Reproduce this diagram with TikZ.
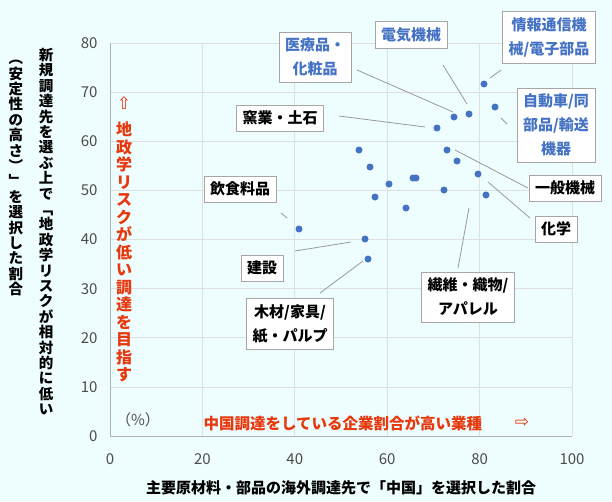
\documentclass[tikz,border=0pt]{standalone}
\usepackage{fontspec}
\setmainfont{Noto Sans CJK JP}
\newfontfamily\sym{DejaVu Sans}
\begin{document}
\begin{tikzpicture}[x=1pt,y=-1pt,
  pt/.style={circle,fill=ptblue,inner sep=0,minimum size=7pt},
  lab/.style={draw=gray!70,fill=white,align=center,inner sep=6pt,font=\fontsize{15}{24}\selectfont\bfseries},
  blab/.style={lab,text=labblue},
  lead/.style={draw=gray!80,line width=0.8pt},
  grid/.style={draw=gray!25,line width=0.8pt},
  tick/.style={font=\fontsize{15}{17}\selectfont,text=black!70},
  vt/.style={align=center,anchor=north,font=\fontsize{14.5}{15.4}\selectfont\bfseries,inner sep=0}]
\definecolor{ptblue}{HTML}{4472C4}
\definecolor{labblue}{HTML}{4472C4}
\definecolor{bg}{HTML}{EEFDFD}
\definecolor{red}{HTML}{E8380D}
\fill[bg] (0,0) rectangle (612,501);
\useasboundingbox (0,0) rectangle (612,501);
% grid
\foreach \i in {1,...,8} \draw[grid] (110,{436-\i*49.1}) -- (572,{436-\i*49.1});
\foreach \i in {1,...,5} \draw[grid] ({110+\i*92.4},43) -- ({110+\i*92.4},436);
\draw[gray!60,line width=0.8pt] (110,43) -- (110,436) -- (572,436);
\foreach \v [count=\i from 0] in {0,10,...,80} \node[tick,anchor=east] (y\i) at (101,{436-\i*49.1}) {\v};
\foreach \v [count=\i from 0] in {0,20,...,100} \node[tick] (x\i) at ({110+\i*92.4},459) {\v};
\node[font=\fontsize{15}{17}\selectfont\bfseries] (xt) at (341,488) {主要原材料・部品の海外調達先で「中国」を選択した割合};
\node[vt] (yt1) at (46,48) {新\\規\\調\\達\\先\\を\\選\\ぶ\\上\\で\\﹁\\地\\政\\学\\リ\\ス\\ク\\が\\相\\対\\的\\に\\低\\い};
\node[vt] (yt2) at (16,60) {︵\\安\\定\\性\\の\\高\\さ\\︶\\﹂\\を\\選\\択\\し\\た\\割\\合};
\node[vt,text=red,font=\fontsize{16}{17.5}\selectfont\bfseries] (rv) at (124,122) {地\\政\\学\\リ\\ス\\ク\\が\\低\\い\\調\\達\\を\\目\\指\\す};
\node[text=red,font=\sym\fontsize{17}{19}\selectfont] (ua) at (124,103) {⇧};
\node[text=red,font=\fontsize{15.5}{17}\selectfont\bfseries,anchor=west] (rh) at (200,423) {中国調達をしている企業割合が高い業種};
\node[text=red,font=\sym\fontsize{17}{19}\selectfont] (ra) at (522,423) {⇨};
\node[font=\fontsize{15}{17}\selectfont,text=black!70] (pc) at (138,420) {（\%）};
% points
\foreach \n/\x/\y in {p1/484/84,p2/495/107,p3/469/114,p4/454/117,p5/437/128,p6/447/150,p7/457/161,p8/478/174,p9/486/195,p10/359/150,p11/370/167,p12/389/184,p13/413/178,p14/416/178,p15/375/197,p16/444/190,p17/406/208,p18/299/229,p19/365/239,p20/368/259}
  \node[pt] (\n) at (\x,\y) {};
% labels
\node[blab] (l1) at (315,57) {医療品・\\化粧品};
\node[blab] (l2) at (411,35) {電気機械};
\node[blab] (l3) at (549,37) {情報通信機\\械/電子部品};
\node[blab] (l4) at (556,125) {自動車/同\\部品/輸送\\機器};
\node[lab] (l5) at (280,118) {窯業・土石};
\node[lab] (l6) at (565,188) {一般機械};
\node[lab] (l7) at (556,229) {化学};
\node[lab] (l8) at (240,189) {飲食料品};
\node[lab] (l9) at (262,268) {建設};
\node[lab] (l10) at (468,297) {繊維・織物/\\アパレル};
\node[lab] (l11) at (290,324) {木材/家具/\\紙・パルプ};
\coordinate (c1a) at (357,70); \coordinate (c1b) at (453,112);
\coordinate (c2a) at (443,65); \coordinate (c2b) at (467,104);
\coordinate (c3a) at (501,70); \coordinate (c3b) at (490,78);
\coordinate (c4a) at (507,124); \coordinate (c4b) at (501,118);
\coordinate (c5a) at (339,116); \coordinate (c5b) at (425,127);
\coordinate (c6a) at (528,188); \coordinate (c6b) at (455,150);
\coordinate (c7a) at (530,218); \coordinate (c7b) at (488,182);
\coordinate (c8a) at (281,213); \coordinate (c8b) at (287,218);
\coordinate (c9a) at (295,251); \coordinate (c9b) at (351,242);
\coordinate (c10a) at (458,268); \coordinate (c10b) at (469,208);
\coordinate (c11a) at (320,293); \coordinate (c11b) at (363,261);
\foreach \i in {1,...,11} \draw[lead] (c\i a) -- (c\i b);
\end{tikzpicture}
\end{document}
